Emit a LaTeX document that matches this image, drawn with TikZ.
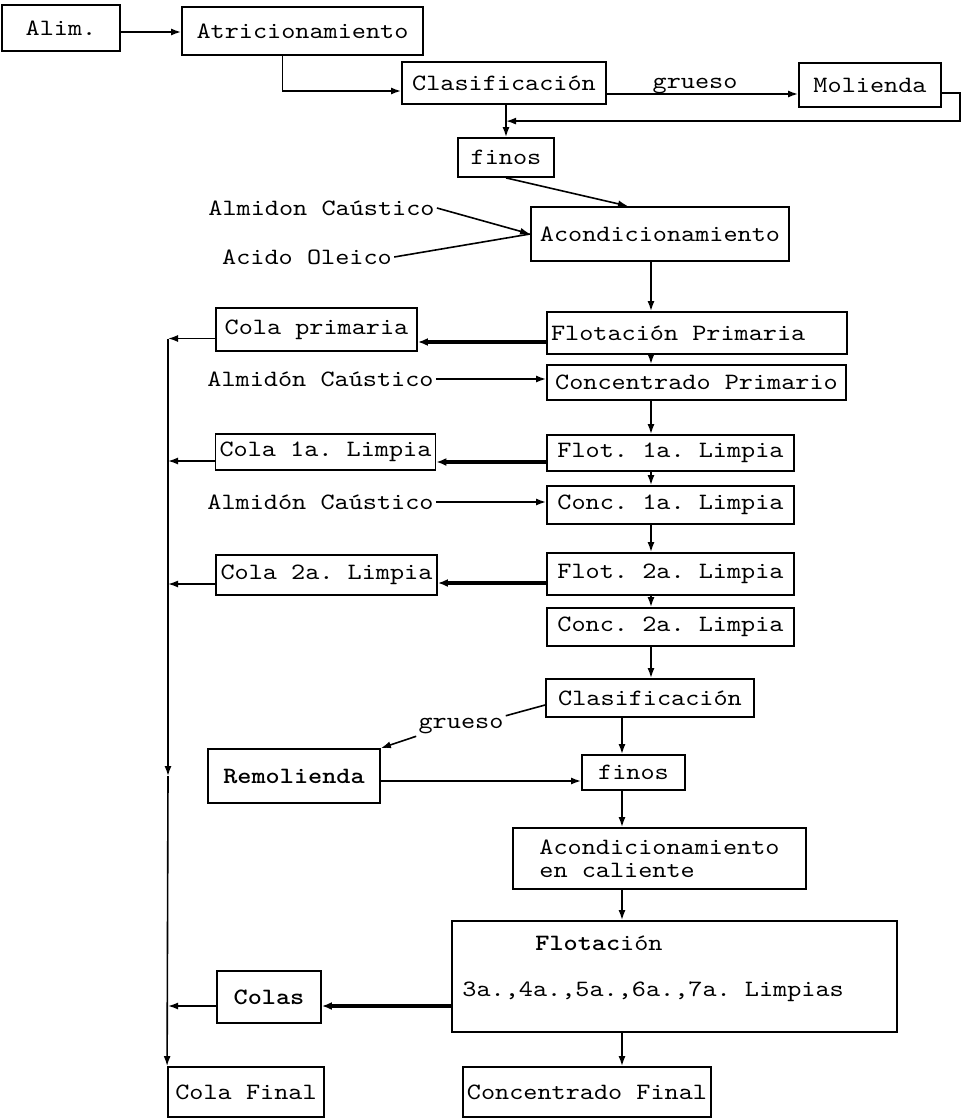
\documentclass[tikz,border=0pt]{standalone}
\usepackage{fontspec}
\setmonofont{lmmono10-regular.otf}[FakeStretch=1.15,BoldFont=lmmonolt10-bold.otf,BoldFeatures={FakeStretch=1.15}]
\usepackage{tikz}
\usetikzlibrary{arrows.meta}

\newcommand{\fuente}{\fontsize{11.7}{14}\selectfont\ttfamily}
\tikzset{
  caja/.style={draw, line width=0.9pt, inner xsep=2pt, inner ysep=1pt, font=\fuente},
  tam/.style 2 args={minimum width=#1*0.5pt, minimum height=#2*0.5pt},
  rotulo/.style={inner sep=1pt, font=\fuente},
  linea/.style={line width=0.8pt},
  flujo/.style={line width=0.8pt, -{Latex[length=5pt,width=3.5pt]}},
  flujog/.style={line width=1.6pt, -{Latex[length=5pt,width=4pt]}}
}

\begin{document}
\begin{tikzpicture}[x=0.5pt,y=-0.5pt]
	\useasboundingbox (0,0) rectangle (960,1119);
	\coordinate (col) at (651,0);
	\coordinate (col2) at (622,0);
	\coordinate (colector) at (168,0);

	\node[caja, tam={118}{46}] (alim) at (61,28) {Alim.};
	\node[caja, tam={241}{48}] (atric) at (302.5,31) {Atricionamiento};
	\node[caja, tam={204}{42}] (clas) at (504,83) {Clasificación};
	\node[caja, tam={142}{44}] (mol) at (870,85) {Molienda};
	\node[caja, tam={96}{39}] (finos) at (506,157.5) {finos};
	\node[caja, tam={258}{54}] (acond) at (660,234) {Acondicionamiento};
	\node[caja, tam={201}{43}] (colap) at (316.5,329.5) {Cola primaria};
	\node[caja, tam={300}{42}] (flotp) at (697,333) {\makebox[146pt][l]{Flotación Primaria}};
	\node[caja, tam={299}{35}] (concp) at (696.5,382.5) {Concentrado Primario};
	\node[caja, tam={219}{36}] (cola1) at (325.5,452) {Cola 1a. Limpia};
	\node[caja, tam={247}{36}] (flot1) at (670.5,453) {Flot. 1a. Limpia};
	\node[caja, tam={247}{38}] (conc1) at (670.5,505) {Conc. 1a. Limpia};
	\node[caja, tam={221}{40}] (cola2) at (326.5,575) {Cola 2a. Limpia};
	\node[caja, tam={247}{42}] (flot2) at (670.5,574) {Flot. 2a. Limpia};
	\node[caja, tam={247}{38}] (conc2) at (670.5,627) {Conc. 2a. Limpia};
	\node[caja, tam={208}{38}] (clas2) at (650,698) {Clasificación};
	\node[caja, tam={172}{54}] (remol) at (294,776) {\bfseries Remolienda};
	\node[caja, tam={103}{35}] (finos2) at (633.5,772.5) {finos};
	\node[caja, tam={293}{61}, align=left] (acondc) at (659.5,858.5) {Acondicionamiento\\[-2.5pt]en caliente};
	\node[caja, tam={445}{111}] (flotf) at (674.5,976.5) {};
	\node[rotulo, anchor=west] (flott) at (533,943) {\textbf{Flotac}ión};
	\node[rotulo, anchor=west] (limp) at (460,992) {3a.,4a.,5a.,6a.,7a. Limpias};
	\node[caja, tam={104}{52}] (colas) at (269,997) {\bfseries Colas};
	\node[caja, tam={156}{50}] (colaf) at (246,1092) {Cola Final};
	\node[caja, tam={206}{50}] (concf) at (587,1092) {Concentrado Final};

	\node[rotulo] (grueso1) at (695,86) {grueso};
	\node[rotulo] (almid1) at (321.5,208) {Almidon Caústico};
	\node[rotulo] (acido) at (307,257) {Acido Oleico};
	\node[rotulo] (almid2) at (320.5,379) {Almidón Caústico};
	\node[rotulo] (almid3) at (320.5,502) {Almidón Caústico};
	\node[rotulo] (grueso2) at (461,726) {grueso};

	\draw[flujo] ([yshift=-2pt]alim.east) -- ([yshift=-2pt]alim.east -| atric.west);
	\draw[flujo] ([xshift=-10pt]atric.south) |- ([yshift=-4pt]clas.west);
	\draw[flujo] ([yshift=-5.5pt]clas.east) -- ([yshift=-5.5pt]clas.east -| mol.west);
	\coordinate (retorno) at ([yshift=8pt]finos.north);
	\draw[flujo] ([yshift=-4pt]mol.east) -- ++(18,0) |- (retorno);
	\draw[flujo] (clas.south -| finos.north) -- (finos.north);
	\draw[flujo] (finos.south) -- ([xshift=-16pt]acond.north);
	\draw[flujo] (almid1.east) -- (acond.west);
	\draw[linea] (acido.east) -- (acond.west);
	\draw[flujo] (almid2.east) -- (almid2.east -| concp.west);
	\draw[flujo] (almid3.east) -- (almid3.east -| conc1.west);

	\foreach \a/\b in {acond/flotp, flotp/concp, concp/flot1, flot1/conc1, conc1/flot2, flot2/conc2, conc2/clas2}
		\draw[flujo] (\a.south -| col) -- (\b.north -| col);
	\foreach \a/\b in {clas2/finos2, finos2/acondc, acondc/flotf, flotf/concf}
		\draw[flujo] (\a.south -| col2) -- (\b.north -| col2);

	\foreach \a/\b in {flotp/colap, flot1/cola1, flot2/cola2}
		\draw[flujog] ([yshift=-4.5pt]\a.west) -- ([yshift=-4.5pt]\a.west -| \b.east);
	\draw[flujog] ([yshift=-14.75pt]flotf.west) -- ([yshift=-14.75pt]flotf.west -| colas.east);
	\foreach \a in {colap, cola1, cola2, colas}
		\draw[flujo] ([yshift=-4.5pt]\a.west) -- ([yshift=-4.5pt]\a.west -| colector);
	\draw[flujo] ([yshift=-4.5pt]colap.west -| colector) -- (colector |- remol);
	\draw[flujo] (colector |- remol) -- (colaf.north west);

	\draw[linea] ([yshift=-3.5pt]clas2.west) -- (grueso2.north east);
	\draw[flujo] (grueso2.south west) -- (remol.north east);
	\draw[flujo] ([yshift=-2.5pt]remol.east) -- ([yshift=-2.5pt]remol.east -| finos2.west);
\end{tikzpicture}
\end{document}
